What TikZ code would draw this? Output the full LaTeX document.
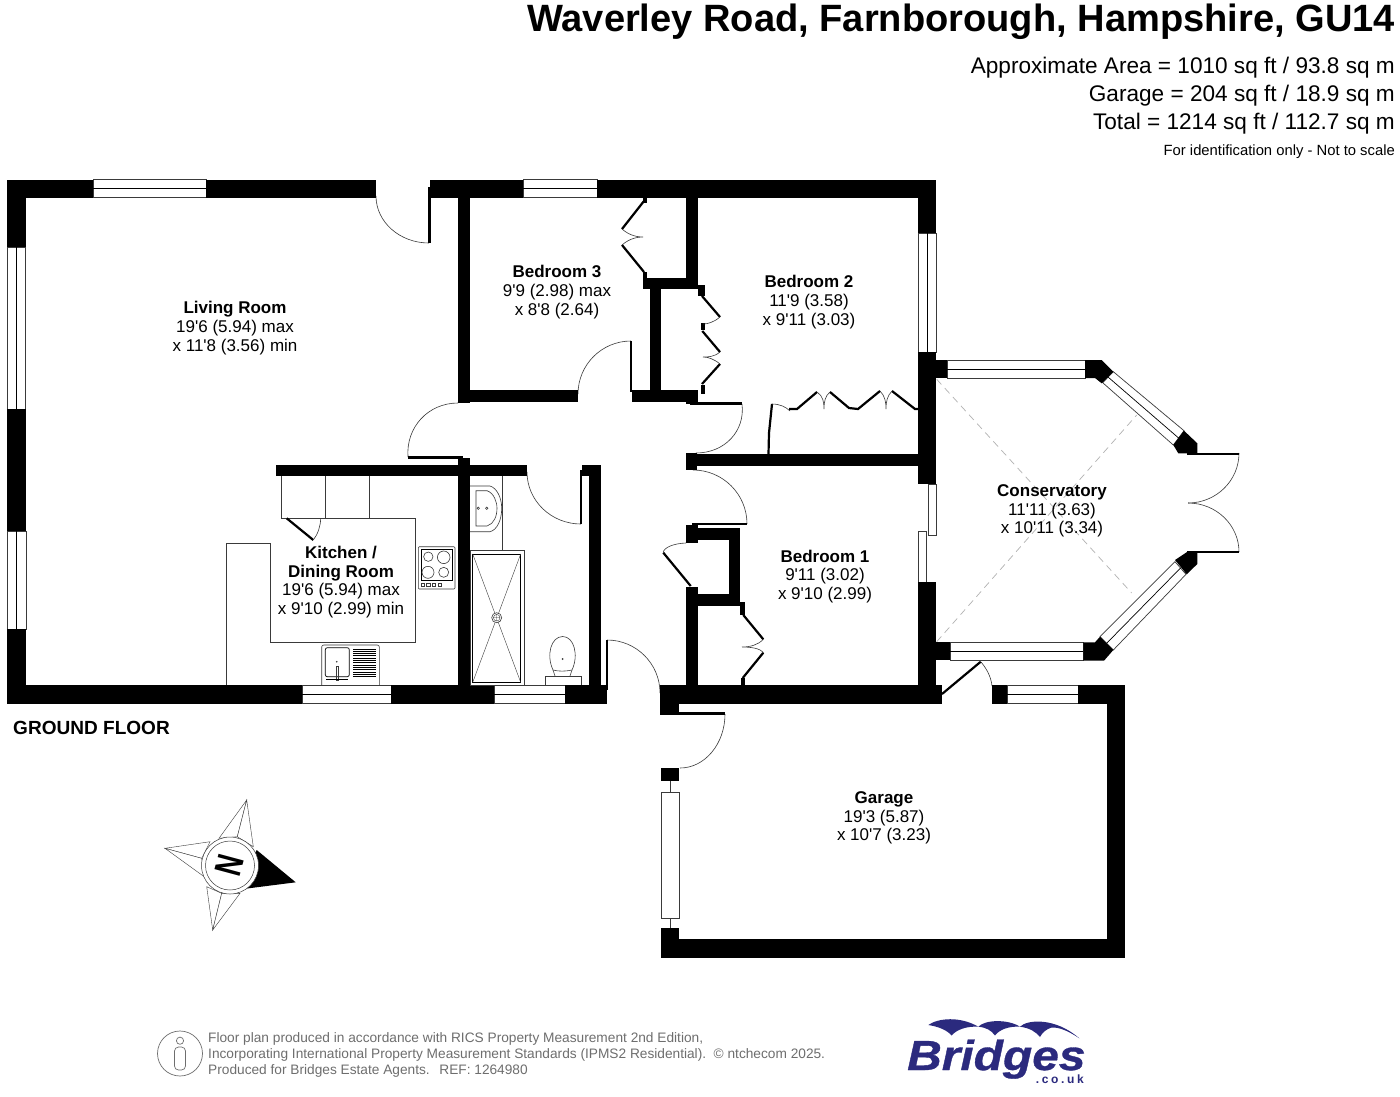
\documentclass[tikz,border=0pt]{standalone}
\usepackage{fontspec}
\setmainfont[Ligatures=TeXOff]{Liberation Sans}
\newcommand{\fs}[1]{\fontsize{#1}{#1}\selectfont}
\definecolor{logoblue}{HTML}{2B2A7E}
\definecolor{foot}{HTML}{6E6E6E}
\definecolor{fine}{HTML}{3A3A3A}
\tikzset{
  wallfill/.style={fill=black,draw=none},
  thinl/.style={draw=fine,line width=0.6pt},
  leaf/.style={draw=black,line width=2.2pt},
  winbox/.style={fill=white,draw=fine,line width=0.7pt},
  winline/.style={draw=black,line width=0.7pt},
  room/.style={align=center,inner sep=0pt,font=\fs{17}},
  hdr/.style={anchor=east,inner sep=0pt},
  footl/.style={anchor=west,inner sep=0pt,text=foot,font=\fs{13.7}},
  roof/.style={draw=gray!60,dash pattern=on 7pt off 5pt,line width=0.7pt}
}
\newcommand{\W}[4]{\fill[wallfill] (#1,#2) rectangle (#3,#4);}
\newcommand{\Q}[6]{\draw[thinl] (#3,#4) .. controls ({#3+0.5523*(#5-#1)},{#4+0.5523*(#6-#2)}) and ({#5+0.5523*(#3-#1)},{#6+0.5523*(#4-#2)}) .. (#5,#6);}
\newcommand{\WH}[3]{\filldraw[winbox] (#1,#3-9) rectangle (#2,#3+9); \draw[winline] (#1,#3) -- (#2,#3);}
\newcommand{\WV}[3]{\filldraw[winbox] (#3-9,#1) rectangle (#3+9,#2); \draw[winline] (#3,#1) -- (#3,#2);}
\begin{document}
\begin{tikzpicture}[x=1pt,y=-1pt]
\useasboundingbox (0,0) rectangle (1400,1096);
\fill[white] (0,0) rectangle (1400,1096);
% header
\node[hdr,font=\bfseries\fs{38.05}] (title) at (1395,21.5) {Waverley Road, Farnborough, Hampshire, GU14};
\node[hdr,font=\fs{22.6}] (area) at (1395,68) {Approximate Area = 1010 sq ft / 93.8 sq m};
\node[hdr,font=\fs{22.6}] (garagearea) at (1395,96) {Garage = 204 sq ft / 18.9 sq m};
\node[hdr,font=\fs{22.6}] (total) at (1395,124) {Total = 1214 sq ft / 112.7 sq m};
\node[hdr,font=\fs{14.8}] (ident) at (1395,152) {For identification only - Not to scale};
% door swings (under the walls)
\Q{429}{196}{376}{196}{429}{243}
\Q{631}{394}{578}{394}{631}{341}
\Q{462}{457}{408}{457}{458}{403}
\Q{690}{404}{742}{404}{696}{453}
\Q{581}{472}{527}{472}{581}{524}
\Q{693}{524}{693}{470}{747}{524}
\Q{607}{693}{607}{640}{660}{693}
\Q{680}{714}{725}{714}{680}{768}
\Q{1188}{453}{1239}{453}{1188}{503}
\Q{1188}{552}{1239}{552}{1188}{503}
\Q{686}{552}{686}{543}{663.3}{552.7}
\draw[thinl] (981,662) .. controls (986,668) and (991,676) .. (992,686);
% windows
\WH{93}{206}{188.5}
\WH{523}{597}{188.5}
\WH{302}{391}{694.5}
\WH{494}{565}{694.5}
\WH{947}{1085}{369}
\WH{950}{1083}{651}
\WH{1007}{1078}{694.5}
\WV{247}{409}{16.5}
\WV{233}{352}{927}
\filldraw[winbox] (661,792) rectangle (679,918);
\draw[thinl] (670,781) -- (670,792) (670,918) -- (670,928);
\filldraw[winbox] (928,484) rectangle (936,535);
\filldraw[winbox] (918,531) rectangle (926,582);
% diagonal conservatory windows
\filldraw[winbox] (1113.3,371.7) -- (1184,430.7) -- (1173.3,445) -- (1102.7,382.7) -- cycle;
\draw[winline] (1108,377) -- (1178.6,438);
\filldraw[winbox] (1186,574.3) -- (1113.3,650) -- (1100,636.7) -- (1175,561.7) -- cycle;
\draw[winline] (1180.5,568) -- (1106.6,643.3);
% main walls
\W{7}{179.5}{93}{198}
\W{206}{179.5}{376}{198}
\W{7}{179.5}{26}{247}
\W{7}{409}{26}{531}
\filldraw[winbox] (7,531) rectangle (26,629); \draw[winline] (16.5,531) -- (16.5,629);
\W{7}{629}{26}{704}
\W{7}{685}{302}{704}
\W{391}{685}{494}{704}
\W{565}{685}{606.7}{704}
\W{430}{179.5}{523}{198}
\W{597}{179.5}{936}{198}
\W{428}{187}{430.5}{243}
\W{458}{198}{470}{403}
\W{470}{390}{578}{402}
\W{632}{390}{698}{402}
\W{630}{341}{632}{392}
\W{650}{278}{661}{390}
\W{642.5}{278}{698}{289}
\W{642.5}{272}{647}{289}
\W{698}{285}{704.5}{296}
\W{686}{198}{698}{278}
\W{642.5}{198}{646.5}{203}
\W{701}{323}{705}{330}
\W{701}{385}{705}{394}
\W{690}{402}{742}{404.5}
\W{686}{398}{698}{404}
\W{686}{454}{918}{466}
\W{686}{453}{697}{470}
\W{918}{179.5}{936}{233}
\W{918}{352}{936}{484}
\W{936}{360}{947}{378}
\W{918}{582}{936}{704}
\W{936}{642}{950}{660}
\W{660}{685}{942}{704}
\W{660}{704}{679}{715}
\W{679}{712}{725}{715}
% hall / kitchen / bathroom
\W{276}{464.5}{527.3}{476}
\W{458.3}{458}{470}{685}
\W{408}{456}{463}{458.5}
\W{589.3}{464.5}{601}{685}
\W{581.7}{464.5}{589.3}{476}
\W{580}{470}{581.7}{524}
\W{606}{640}{608}{690}
% bedroom 1
\W{692}{522.5}{747}{524.5}
\W{686}{525}{697.7}{543}
\W{697.7}{528}{740}{540}
\W{729}{528}{740}{606}
\W{697.7}{594.3}{740}{606}
\W{740}{602}{745}{615}
\W{686}{587}{697.7}{690}
\W{741}{678}{745}{685}
% garage
\W{660.7}{704}{679}{715}
\W{660.7}{768}{679}{781}
\W{660.7}{928}{679}{958}
\W{660.7}{939}{1125}{958}
\W{1106.7}{685}{1125}{958}
\W{1078}{685}{1125}{704}
\W{992}{685}{1007}{704}
% conservatory blocks
\fill[black] (1085,360) -- (1101.7,360) -- (1113.3,371.7) -- (1101.7,383.3) -- (1095,378) -- (1085,378) -- cycle;
\fill[black] (1184,430.7) -- (1197.3,443.3) -- (1197.3,453.3) -- (1178.3,453.3) -- (1173.3,445) -- cycle;
\fill[black] (1175,560) -- (1187,552) -- (1197.3,552) -- (1197.3,564) -- (1186.7,574.3) -- cycle;
\fill[black] (1100,636.7) -- (1113.3,650) -- (1104,660.7) -- (1083.3,660.7) -- (1083.3,642.3) -- (1095,642.3) -- cycle;
\draw[black,line width=2pt] (1187,453.5) -- (1239,453.5) (1187,552) -- (1239,552);
\draw[roof] (936.7,379.3) -- (1131.7,593);
\draw[roof] (936.7,641.7) -- (1136.7,415);
% conservatory side door leaf
\draw[leaf] (942,694) -- (980.7,661.7);
% fitted door leaves
\draw[leaf] (644,201) -- (622,229) (622,245) -- (644,272);
\draw[thinl] (622,229) .. controls (630,236) and (638,237) .. (643,237) .. controls (638,237) and (630,238) .. (622,245);
\draw[leaf] (702,296) -- (720,317) (702.3,331) -- (720,352) (720,364) -- (702,384);
\draw[thinl] (720,317) .. controls (714,322) and (708,324) .. (703,324);
\draw[thinl] (720,352) .. controls (714,357) and (708,357) .. (703,357) .. controls (708,357) and (714,359) .. (720,364);
\draw[leaf] (768.5,454) -- (769,433) -- (772,404);
\draw[thinl] (772,404) .. controls (780,404) and (786,407) .. (790,411);
\draw[leaf] (789,409) -- (797,409) -- (817,392) (830,392) -- (849,408) -- (858,409) -- (880,391) (892,391) -- (915,409) -- (918,409);
\draw[thinl] (817,392) .. controls (823,396) and (824,402) .. (824,409) .. controls (824,402) and (825,396) .. (830,392);
\draw[thinl] (880,391) .. controls (885,396) and (886,402) .. (886,409) .. controls (886,402) and (887,396) .. (892,391);
\draw[leaf] (663.3,552.7) -- (690.7,586);
\draw[leaf] (743.3,615) -- (763.3,639.3) (763.3,652.7) -- (742.7,678);
\draw[thinl] (763.3,639.3) .. controls (758,645) and (750,647) .. (742,647) .. controls (750,647) and (760,648) .. (763.3,652.7);
% kitchen units
\draw[thinl] (281.7,476) -- (281.7,518.3) -- (415,518.3) -- (415,642.3) -- (270,642.3) -- (270,543.3) -- (226,543.3) -- (226,685);
\draw[thinl] (325.7,476) -- (325.7,518.3) (369.3,476) -- (369.3,518.3);
\draw[leaf] (286.7,518.3) -- (313.3,540);
\draw[thinl] (320.7,518.3) .. controls (320.5,526) and (318,534) .. (313.3,540);
% hob
\filldraw[thinl,fill=white,rounded corners=1pt] (418.3,546.7) rectangle (455,589);
\draw[draw=black,line width=0.7pt] (421.7,549.3) rectangle (452.3,580.7);
\draw[thinl] (428.3,556.7) circle[radius=4.7] (443.7,557.3) circle[radius=6.3] (428,572.3) circle[radius=6] (443.7,572.3) circle[radius=5];
\foreach \k in {423,428.3,433.7,440}{\draw[thinl] (\k-1.6,583.2) rectangle (\k+1.6,586.2);}
% sink
\draw[thinl,rounded corners=2pt] (321.7,685) -- (321.7,645) -- (379.3,645) -- (379.3,685);
\draw[draw=black,line width=0.7pt,rounded corners=2pt] (325.3,647.7) rectangle (349.3,676.7);
\fill[fine] (336.7,661.7) circle[radius=0.9];
\draw[thinl] (336,666) rectangle (338.3,680.7);
\draw[black,line width=1pt] (326,679.5) -- (348,679.5);
\foreach \k in {649,651.3,...,677}{\draw[black,line width=1pt] (353.3,\k) -- (376,\k);}
% basin
\draw[thinl] (502.7,476) -- (502.7,550);
\draw[thinl] (470,486) -- (490,486) .. controls (497,488) and (501.7,498) .. (501.7,508.3) .. controls (501.7,520) and (497,530) .. (490,531.7) -- (470,531.7);
\draw[thinl] (476,490.7) -- (487,490.7) .. controls (494,493) and (497,502) .. (497,508.3) .. controls (497,516) and (494,524) .. (487,526) -- (476,526) -- cycle;
\draw[thinl] (478.3,508.3) circle[radius=1.2] (486.7,508.3) circle[radius=1.2];
% shower
\draw[thinl] (470,550) rectangle (524.3,685);
\draw[draw=black,line width=0.8pt] (472.7,554) rectangle (520.7,682.3);
\draw[thinl,line width=0.4pt] (472.7,554) -- (520.7,682.3) (520.7,554) -- (472.7,682.3);
\filldraw[thinl,fill=white] (496.7,617.7) circle[radius=5];
\draw[thinl,line width=0.4pt] (496.7,617.7) circle[radius=3.3] (493.4,617.7) -- (500,617.7) (496.7,614.4) -- (496.7,621);
% toilet
\draw[thinl] (553,670) .. controls (546,655) and (551,636.5) .. (562.7,636.5) .. controls (574,636.5) and (579,655) .. (572,670) .. controls (565,671.5) and (559,671.5) .. (553,670);
\fill[fine] (562.7,659) circle[radius=1];
\draw[thinl] (545,685) -- (545,676) -- (581.7,676) -- (581.7,685);
\draw[thinl] (553,670) -- (555,676) (572,670) -- (570,676);
% room labels
\node[room] (living) at (235,328) {\textbf{Living Room}\\[1.8pt]19'6 (5.94) max\\[1.8pt]x 11'8 (3.56) min};
\node[room] (bed3) at (557,292) {\textbf{Bedroom 3}\\[1.8pt]9'9 (2.98) max\\[1.8pt]x 8'8 (2.64)};
\node[room] (bed2) at (809,302) {\textbf{Bedroom 2}\\[1.8pt]11'9 (3.58)\\[1.8pt]x 9'11 (3.03)};
\node[room] (bed1) at (825,576.5) {\textbf{Bedroom 1}\\[1.8pt]9'11 (3.02)\\[1.8pt]x 9'10 (2.99)};
\node[room] (cons) at (1052,511) {\textbf{Conservatory}\\[1.8pt]11'11 (3.63)\\[1.8pt]x 10'11 (3.34)};
\node[room] (kitchen) at (341,582) {\textbf{Kitchen /}\\[1.8pt]\textbf{Dining Room}\\[1.8pt]19'6 (5.94) max\\[1.8pt]x 9'10 (2.99) min};
\node[room] (garage) at (884,818) {\textbf{Garage}\\[1.8pt]19'3 (5.87)\\[1.8pt]x 10'7 (3.23)};
\node[anchor=west,inner sep=0pt,font=\bfseries\fs{19.05}] (floor) at (13,728) {GROUND FLOOR};
% compass
\filldraw[thinl,fill=white,line width=0.4pt] (246.7,800) -- (219,838.3) -- (237.3,836.7) -- cycle;
\filldraw[thinl,fill=white,line width=0.4pt] (246.7,800) -- (253.3,846.7) -- (237.3,836.7) -- cycle;
\filldraw[thinl,fill=white,line width=0.4pt] (165,848.3) -- (210,841.7) -- (201.7,858.3) -- cycle;
\filldraw[thinl,fill=white,line width=0.4pt] (165,848.3) -- (205,877.3) -- (201.7,858.3) -- cycle;
\filldraw[thinl,fill=white,line width=0.4pt] (212.7,930) -- (206.7,886.7) -- (221.7,893.3) -- cycle;
\filldraw[thinl,fill=white,line width=0.4pt] (212.7,930) -- (240,893.3) -- (221.7,893.3) -- cycle;
\fill[black] (295.7,882.3) -- (256.7,850) -- (240,880) -- (247,888.5) -- cycle;
\filldraw[thinl,fill=white,line width=0.5pt] (230,865.5) circle[radius=28.5];
\draw[thinl,line width=0.5pt] (230,865.5) circle[radius=24.5];
\node[inner sep=0pt,rotate=-105,yscale=1.4,font=\bfseries\fs{27}] (north) at (230,865.5) {N};
% footer
\draw[foot,line width=0.7pt] (180,1053.5) circle[radius=22.5];
\draw[foot,line width=0.7pt] (180,1040.7) circle[radius=3.6];
\draw[foot,line width=0.7pt,rounded corners=4pt] (174.5,1047) rectangle (185.5,1070);
\node[footl] (f1) at (208,1038.5) {Floor plan produced in accordance with RICS Property Measurement 2nd Edition,};
\node[footl] (f2) at (208,1054.5) {Incorporating International Property Measurement Standards (IPMS2 Residential).\hspace{0.55em}© ntchecom 2025.};
\node[footl] (f3) at (208,1070.5) {Produced for Bridges Estate Agents.\hspace{0.7em}REF: 1264980};
% logo
\fill[logoblue] (928.3,1025) .. controls (938,1018) and (960,1016) .. (978.3,1026.7) .. controls (966,1026) and (956,1030) .. (951.7,1035.5) .. controls (947,1030) and (938,1026.5) .. cycle;
\fill[logoblue] (978.3,1026.7) .. controls (985,1019.5) and (1008,1019) .. (1020,1026.7) .. controls (1008,1026) and (999,1030) .. (995,1035.5) .. controls (991,1030) and (986,1027.5) .. cycle;
\fill[logoblue] (1020,1026.7) .. controls (1027,1019.5) and (1055,1017) .. (1079.3,1038.3) .. controls (1070,1032) and (1060,1027) .. (1051.7,1027.5) .. controls (1046,1029) and (1042,1033) .. (1040,1037) .. controls (1036,1032) and (1030,1028) .. cycle;
\node[anchor=base west,inner sep=0pt,text=logoblue,xscale=1.14,font=\bfseries\itshape\fs{42}\addfontfeature{FakeBold=0.8}] (bridges) at (907,1070) {Bridges};
\node[anchor=base east,inner sep=0pt,text=logoblue,font=\bfseries\fs{12}\addfontfeature{LetterSpace=22}] (couk) at (1084,1083.5) {.co.uk};
\end{tikzpicture}
\end{document}
